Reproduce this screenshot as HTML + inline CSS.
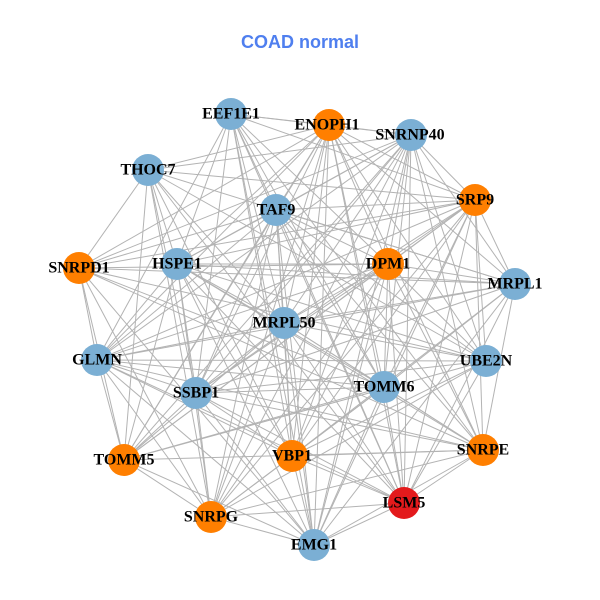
<!DOCTYPE html>
<html><head><meta charset="utf-8"><style>
html,body{margin:0;padding:0;background:#fff}
svg{display:block}
text.l{font-family:"Liberation Serif",serif;font-weight:bold;font-size:16px;fill:#000;text-anchor:middle;dominant-baseline:central}
</style></head><body>
<svg id="s" width="600" height="600" viewBox="0 0 600 600">
<rect width="600" height="600" fill="#fff"/>
<text x="300" y="48" text-anchor="middle" font-family="Liberation Sans,sans-serif" font-weight="bold" font-size="18" fill="#4f7fef">COAD normal</text>
<g id="e" stroke="#b3b3b3" stroke-width="1"></g>
<g id="n"></g>
<g>
<text class="l" x="231" y="114">EEF1E1</text>
<text class="l" x="327" y="125">ENOPH1</text>
<text class="l" x="410" y="135">SNRNP40</text>
<text class="l" x="148" y="170">THOC7</text>
<text class="l" x="475" y="200">SRP9</text>
<text class="l" x="276" y="210">TAF9</text>
<text class="l" x="79" y="268">SNRPD1</text>
<text class="l" x="177" y="264">HSPE1</text>
<text class="l" x="388" y="264">DPM1</text>
<text class="l" x="515" y="284">MRPL1</text>
<text class="l" x="284" y="323">MRPL50</text>
<text class="l" x="97" y="360">GLMN</text>
<text class="l" x="486" y="361">UBE2N</text>
<text class="l" x="196" y="393">SSBP1</text>
<text class="l" x="384" y="387">TOMM6</text>
<text class="l" x="124" y="460">TOMM5</text>
<text class="l" x="292" y="456">VBP1</text>
<text class="l" x="483" y="450">SNRPE</text>
<text class="l" x="211" y="517">SNRPG</text>
<text class="l" x="404" y="503">LSM5</text>
<text class="l" x="314" y="545">EMG1</text>
</g>
</svg>
<script>
var B="#7bafd4",O="#ff7f00",R="#e31a1c";
var N=[[231,114,B],[329,125,O],[411,135,B],[148,170,B],[475,200,O],[276,210,B],[79,268,O],[177,264,B],[388,264,O],[515,284,B],[284,323,B],[97,360,B],[486,361,B],[196,393,B],[384,387,B],[124,460,O],[292,456,O],[483,450,O],[211,517,O],[404,503,R],[314,545,B]];
var ns="http://www.w3.org/2000/svg",e=document.getElementById("e"),g=document.getElementById("n");
for(var i=0;i<N.length;i++)for(var j=i+1;j<N.length;j++){
 if((i*7+j*3)%9==0)continue;
 var l=document.createElementNS(ns,"line");
 l.setAttribute("x1",N[i][0]);l.setAttribute("y1",N[i][1]);l.setAttribute("x2",N[j][0]);l.setAttribute("y2",N[j][1]);e.appendChild(l);}
N.forEach(function(p){var c=document.createElementNS(ns,"circle");c.setAttribute("cx",p[0]);c.setAttribute("cy",p[1]);c.setAttribute("r",16);c.setAttribute("fill",p[2]);g.appendChild(c);});
</script>
</body></html>
